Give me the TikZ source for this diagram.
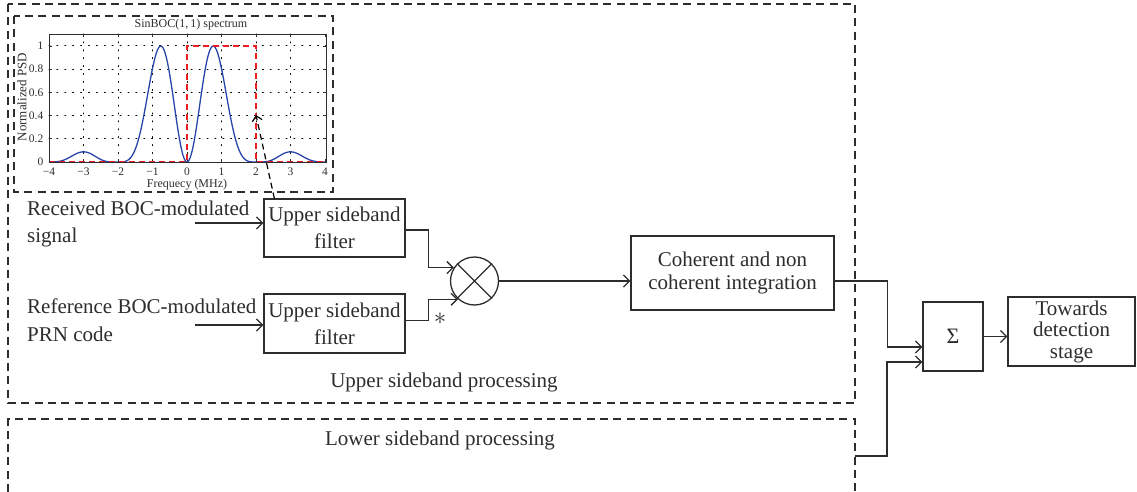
\documentclass[tikz,border=0pt]{standalone}
\usepackage{fontspec}
\setmainfont{Liberation Serif}
\usetikzlibrary{arrows.meta,calc}
\definecolor{psdblue}{RGB}{40,70,170}
\definecolor{psdred}{RGB}{235,30,35}
\definecolor{ink}{RGB}{45,45,45}
\begin{document}
\begin{tikzpicture}[x=1pt,y=-1pt, color=ink,
  dbox/.style={draw=ink, line width=1.4pt, dash pattern=on 8pt off 5.3pt},
  blk/.style={draw=ink, line width=1.3pt, inner sep=0pt, align=center, font=\fontsize{21}{27}\selectfont},
  arr/.style={draw=ink, line width=1.3pt, -{Straight Barb[length=6pt,width=12pt]}},
  lbl/.style={font=\fontsize{21}{27.5}\selectfont, align=left, inner sep=0pt},
  tick/.style={font=\fontsize{11.5}{13}\selectfont, inner sep=0.5pt},
  grid/.style={draw=black, line width=1pt, dash pattern=on 1pt off 6.9pt, line cap=round}]
\useasboundingbox (0,0) rectangle (1137,492);

% sideband boxes
\draw[dbox] (8,4) rectangle (855,403);
\draw[dbox] (8,492) -- (8,419) -- (855,419) -- (855,492);
\coordinate (lsb) at (855,456);

% inset plot
\draw[dbox] (14,16) rectangle (333,192);
\foreach \f in {-3,...,3} \draw[grid] ({187+34.5*\f},34) -- ({187+34.5*\f},162);
\foreach \g in {0.2,0.4,0.6,0.8,1} \draw[grid] (49,{162-116*\g}) -- (326,{162-116*\g});
\foreach \f in {-4,...,4} {
  \draw[line width=0.7pt] ({187+34.5*\f},162) -- ++(0,-3);
  \draw[line width=0.7pt] ({187+34.5*\f},34) -- ++(0,3);
}
\foreach \g in {0,0.2,0.4,0.6,0.8,1} {
  \draw[line width=0.7pt] (49,{162-116*\g}) -- ++(3,0);
  \draw[line width=0.7pt] (326,{162-116*\g}) -- ++(-3,0);
}
\foreach \f/\t in {-4/−4,-3/−3,-2/−2,-1/−1,0/0,1/1,2/2,3/3,4/4}
  \node[tick, anchor=north] at ({187+34.5*\f},167) {\t};
\foreach \g in {0,0.2,0.4,0.6,0.8,1}
  \node[tick, anchor=east] at (44,{162-116*\g}) {\g};
\draw[psdblue, line width=1.3pt] plot[domain=-4:4, samples=240, smooth]
  ({187+34.5*\x},{162-116*((sin(90*\x/1.023))^2/(\x/1.023))^2/1.2955});
\draw[psdred, line width=1.4pt, dash pattern=on 6pt off 4pt]
  (49,162) -- (187,162) -- (187,46) -- (256,46) -- (256,162) -- (326,162);
\draw[line width=0.9pt] (49,34) rectangle (326,162);
\node[tick, font=\fontsize{12}{13}\selectfont] (title) at (191,25) {SinBOC(1,\,1) spectrum};
\node[tick, rotate=90, font=\fontsize{13}{14}\selectfont] (ylab) at (22,97) {Normalized PSD};
\node[tick, font=\fontsize{12}{13}\selectfont] (xlab) at (187,185) {Frequecy (MHz)};
\coordinate (pt) at (256,115);

% blocks
\node[blk, minimum width=141pt, minimum height=58pt] (uf) at (334.5,228) {Upper sideband\\filter};
\node[blk, minimum width=141pt, minimum height=59pt] (lf) at (334.5,323.5) {Upper sideband\\filter};
\node[draw=ink, circle, line width=1.3pt, minimum size=48pt, inner sep=0pt] (mul) at (474.5,281) {};
\draw[line width=1.3pt] (mul.45) -- (mul.225) (mul.135) -- (mul.315);
\node[blk, minimum width=203pt, minimum height=74pt, font=\fontsize{21}{23}\selectfont] (coh) at (732.5,273) {Coherent and non\\coherent integration};
\node[blk, minimum width=60pt, minimum height=69pt, font=\fontsize{22}{23}\selectfont] (sig) at (953,336.5) {Σ};
\node[blk, minimum width=127pt, minimum height=69pt, font=\fontsize{21}{21.5}\selectfont] (tow) at (1071.5,331.5) {Towards\\detection\\stage};

% labels
\node[lbl, anchor=west] (rx) at (27,224) {Received BOC-modulated\\signal};
\node[lbl, anchor=west] (rf) at (27,320) {Reference BOC-modulated\\PRN code};
\node[lbl] (usp) at (444,382) {Upper sideband processing};
\node[lbl] (lsp) at (440,440) {Lower sideband processing};
\node[font=\fontsize{27}{27}\selectfont, inner sep=0pt] (star) at (440,319) {$\ast$};

% connectors
\coordinate (in1) at (195,223);
\coordinate (in2) at (195,325);
\draw[arr] (in1) -- (in1 -| uf.west);
\draw[arr] (in2) -- (in2 -| lf.west);
\draw[arr] ($(uf.east)+(0,2)$) -- ++(23,0) |- (mul.147);
\draw[arr] ($(lf.east)+(0,-3)$) -- ++(23,0) |- (mul.228);
\draw[arr] (mul.east) -- (mul.east -| coh.west);
\draw[arr] (mul.east -| coh.east) -- ++(53,0) |- ($(sig.west)+(0,10.5)$);
\draw[arr] (lsb) -- ++(32,0) |- ($(sig.west)+(0,25.5)$);
\draw[arr] (sig.east) -- (sig.east -| tow.west);
\draw[draw=black, line width=1.2pt, dash pattern=on 6pt off 4pt, -{Straight Barb[length=5pt,width=10pt]}]
  ($(uf.north west)+(11,0)$) -- (pt);
\end{tikzpicture}
\end{document}
